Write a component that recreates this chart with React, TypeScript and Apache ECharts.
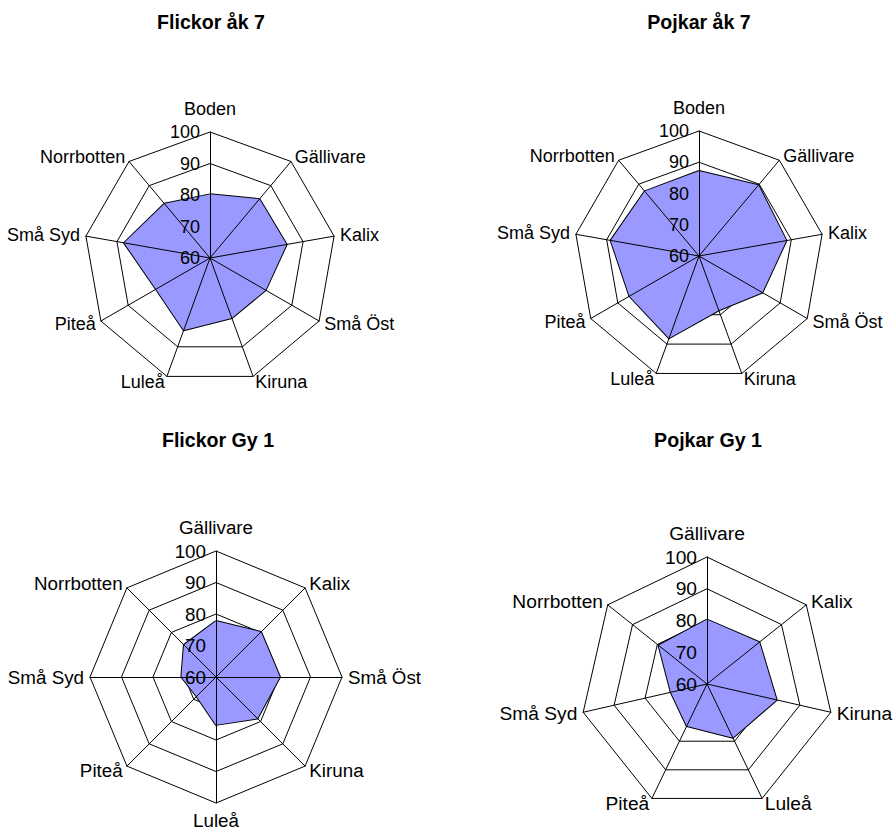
import React, { useEffect, useRef } from "react";
import * as echarts from "echarts";

const chartTitles = ["Flickor åk 7", "Pojkar åk 7", "Flickor Gy 1", "Pojkar Gy 1"];

// Categories listed clockwise from the top, as in the picture
const categoriesAk7 = ["Boden", "Gällivare", "Kalix", "Små Öst", "Kiruna", "Luleå", "Piteå", "Små Syd", "Norrbotten"];
const categoriesFlickorGy1 = ["Gällivare", "Kalix", "Små Öst", "Kiruna", "Luleå", "Piteå", "Små Syd", "Norrbotten"];
const categoriesPojkarGy1 = ["Gällivare", "Kalix", "Kiruna", "Luleå", "Piteå", "Små Syd", "Norrbotten"];

const flickorAk7 = [80.2, 84.4, 84.7, 80.4, 80.3, 84.4, 79.8, 87.7, 82.5];
const pojkarAk7 = [87.2, 89.6, 88.4, 83.4, 78.5, 88.0, 85.7, 88.7, 87.0];
const flickorGy1 = [77.8, 80.2, 80.3, 78.6, 75.2, 68.7, 71.0, 74.4];
const pojkarGy1 = [80.3, 81.1, 82.5, 78.8, 74.7, 71.7, 79.5];

const axisMin = 60;
const axisMax = 100;
const axisSplits = 4;

const FONT = "'Liberation Sans', Arial, Helvetica, sans-serif";

const panels = [
  { title: chartTitles[0], cats: categoriesAk7, values: flickorAk7, cx: 210, cy: 258, r: 126, tx: 211, ty: 22, fs: 18 },
  { title: chartTitles[1], cats: categoriesAk7, values: pojkarAk7, cx: 699, cy: 256, r: 125, tx: 699, ty: 22, fs: 18 },
  { title: chartTitles[2], cats: categoriesFlickorGy1, values: flickorGy1, cx: 216, cy: 677, r: 126, tx: 218, ty: 440, fs: 18.8 },
  { title: chartTitles[3], cats: categoriesPojkarGy1, values: pojkarGy1, cx: 707, cy: 684, r: 127, tx: 708, ty: 440, fs: 19.2 },
];

// ECharts radar runs counter-clockwise; reorder so the picture reads clockwise
function clockwise<T>(arr: T[]): T[] {
  return [arr[0], ...arr.slice(1).reverse()];
}

function buildOption() {
  const radar: any[] = [];
  const series: any[] = [];
  const title: any[] = [];
  panels.forEach((p, i) => {
    const n = p.cats.length;
    const cats = clockwise(p.cats);
    const vals = clockwise(p.values);
    radar.push({
      center: [p.cx, p.cy],
      radius: p.r,
      startAngle: 90,
      shape: "polygon",
      splitNumber: axisSplits,
      z: 0,
      indicator: cats.map((name, k) => {
        const ang = 90 + (360 * k) / n;
        const gap = k === 0 ? 14 : Math.abs(ang - 270) < 1 ? 8 : 6;
        return { name, min: axisMin, max: axisMax, nameGap: gap };
      }),
      axisName: { color: "#000", fontSize: p.fs, fontFamily: FONT },
      axisLine: { show: false },
      axisTick: { show: false },
      axisLabel: { show: false },
      splitLine: { show: true, lineStyle: { color: "#000", width: 1 } },
      splitArea: { show: false },
    });
    radar.push({
      center: [p.cx, p.cy],
      radius: p.r,
      startAngle: 90,
      shape: "polygon",
      splitNumber: axisSplits,
      z: 3,
      indicator: cats.map((name, k) => ({
        name,
        min: axisMin,
        max: axisMax,
        axisLabel: { show: k === 0 },
      })),
      axisName: { show: false },
      axisLine: { show: true, lineStyle: { color: "#000", width: 1 } },
      axisTick: { show: false },
      axisLabel: { show: false, color: "#000", fontSize: p.fs, fontFamily: FONT, margin: 10 },
      splitLine: { show: false },
      splitArea: { show: false },
    });
    series.push({
      type: "radar",
      radarIndex: 2 * i,
      symbol: "none",
      z: 2,
      lineStyle: { color: "#000", width: 2 },
      areaStyle: { color: "#9999FF", opacity: 1 },
      data: [{ value: vals, name: p.title }],
    });
    title.push({
      text: p.title,
      left: p.tx - 5,
      top: p.ty - 5,
      textAlign: "center",
      textVerticalAlign: "middle",
      textStyle: { fontSize: 19.6, fontWeight: "bold", fontFamily: FONT, color: "#000" },
    });
  });
  return { animation: false, backgroundColor: "#fff", title, radar, series };
}

export default function App() {
  const ref = useRef<HTMLDivElement>(null);
  useEffect(() => {
    if (!ref.current) return;
    const chart = echarts.init(ref.current, undefined, { renderer: "svg" });
    chart.setOption(buildOption() as any);
    return () => chart.dispose();
  }, []);
  return (
    <div
      ref={ref}
      style={{ position: "fixed", left: 0, top: 0, width: 896, height: 835, background: "#fff" }}
    />
  );
}
